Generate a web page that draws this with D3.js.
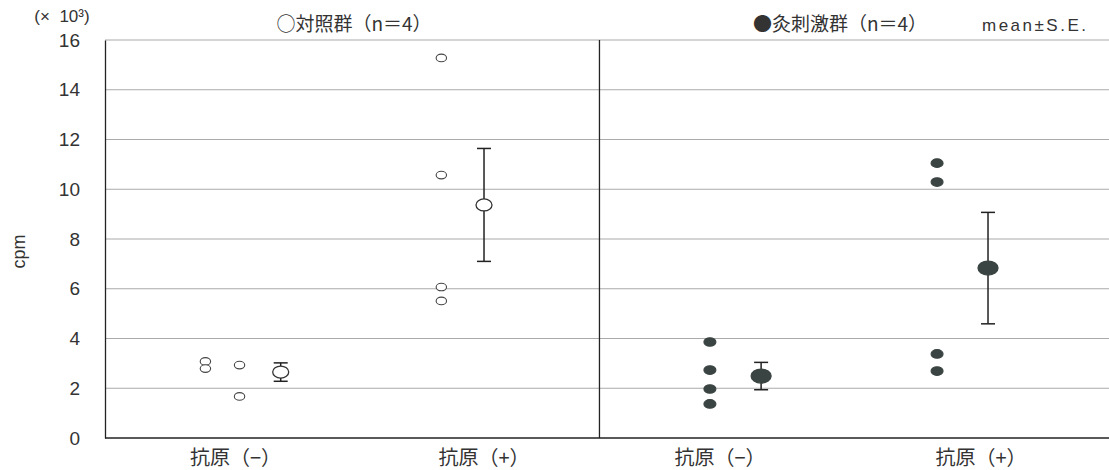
<!DOCTYPE html>
<html><head><meta charset="utf-8">
<script src="https://cdn.jsdelivr.net/npm/d3@7"></script>
<style>body{margin:0;background:#fff}svg{display:block}</style>
</head><body>
<svg id="c" width="1109" height="470"></svg>
<script>
// ---- data ----
const categories = ["抗原（−）", "抗原（+）", "抗原（−）", "抗原（+）"];
const groups = ["対照群", "対照群", "灸刺激群", "灸刺激群"];
const yTicks = [0, 2, 4, 6, 8, 10, 12, 14, 16];
// individual values (×10^3 cpm)
const indControlNeg = [3.08, 2.79, 2.93, 1.67];
const indControlNegCol = [0, 0, 1, 1];
const indControlPos = [15.28, 10.57, 6.07, 5.51];
const indStimNeg = [3.86, 2.73, 1.97, 1.37];
const indStimPos = [11.05, 10.29, 3.38, 2.69];
// mean and SE
const meanVals = [2.65, 9.37, 2.49, 6.83];
const seVals = [0.37, 2.27, 0.55, 2.24];
// layout positions (category units)
const catLabelPos = [0.52, 1.51, 2.45, 3.49];
const indPos = [0.40, 1.34, 2.41, 3.315];
const indColStep = 0.136;
const meanPos = [0.70, 1.51, 2.614, 3.518];
const dividerPos = 1.97;

const svg = d3.select("#c");
const W = 1109, H = 470;
const m = {l: 105, r: 0, t: 40, b: 32};
const x = d3.scaleLinear().domain([0, 4]).range([m.l, W - m.r]);
const y = d3.scaleLinear().domain([0, 16]).range([H - m.b, m.t]);

const textCol = "#333";
const font = "'Noto Sans CJK JP', 'Noto Sans', sans-serif";
const latin = "'Liberation Sans', Arial, sans-serif";

// grid lines
svg.append("g").selectAll("line").data(yTicks.filter(d => d > 0)).join("line")
  .attr("x1", x(0)).attr("x2", W).attr("y1", d => y(d)).attr("y2", d => y(d))
  .attr("stroke", "#aaa").attr("stroke-width", 1.2);

// y axis
const yAxis = d3.axisLeft(y).tickValues(yTicks).tickSize(0).tickPadding(25);
const ga = svg.append("g").attr("transform", `translate(${m.l},0)`).call(yAxis);
ga.select(".domain").attr("stroke", "#222").attr("stroke-width", 1.3);
ga.selectAll("text").attr("font-family", latin).attr("font-size", 19).attr("fill", textCol);

// bottom axis line
svg.append("line").attr("x1", x(0)).attr("x2", W).attr("y1", y(0)).attr("y2", y(0))
  .attr("stroke", "#222").attr("stroke-width", 1.3);
// divider
svg.append("line").attr("x1", x(dividerPos)).attr("x2", x(dividerPos)).attr("y1", y(16)).attr("y2", y(0))
  .attr("stroke", "#222").attr("stroke-width", 1.3);

// category labels
svg.append("g").selectAll("text").data(categories).join("text")
  .attr("x", (d, i) => x(catLabelPos[i])).attr("y", 465)
  .attr("text-anchor", "middle").attr("font-family", font).attr("font-size", 20).attr("fill", textCol)
  .text(d => d);

// units / axis title
svg.append("text").attr("x", 62).attr("y", 22).attr("text-anchor", "middle")
  .attr("font-family", latin).attr("font-size", 17).attr("fill", textCol)
  .attr("xml:space", "preserve")
  .text("(×  10³)");
svg.append("text").attr("transform", `translate(25,${y(7.5)}) rotate(-90)`).attr("text-anchor", "middle")
  .attr("font-family", latin).attr("font-size", 18).attr("fill", textCol)
  .text("cpm");

// titles
svg.append("text").attr("x", 354).attr("y", 31).attr("text-anchor", "middle")
  .attr("font-family", font).attr("font-size", 19).attr("fill", textCol)
  .text("○" + groups[0] + "（n＝4）");
svg.append("text").attr("x", 840).attr("y", 31).attr("text-anchor", "middle")
  .attr("font-family", font).attr("font-size", 19).attr("fill", textCol)
  .text("●" + groups[2] + "（n＝4）");
svg.append("text").attr("x", 982).attr("y", 31)
  .attr("font-family", latin).attr("font-size", 17).attr("fill", textCol)
  .attr("letter-spacing", 2.5)
  .text("mean±S.E.");

const dark = "#3a4442";
// individual points
const indSets = [
  {vals: indControlNeg, cols: indControlNegCol, g: 0, filled: false},
  {vals: indControlPos, cols: null, g: 1, filled: false},
  {vals: indStimNeg, cols: null, g: 2, filled: true},
  {vals: indStimPos, cols: null, g: 3, filled: true}
];
indSets.forEach(s => {
  svg.append("g").selectAll("ellipse").data(s.vals).join("ellipse")
    .attr("cx", (d, i) => x(indPos[s.g] + (s.cols ? s.cols[i] * indColStep : 0)))
    .attr("cy", d => y(d))
    .attr("rx", s.filled ? 6 : 5.2).attr("ry", s.filled ? 4.3 : 3.8)
    .attr("fill", s.filled ? dark : "#fff")
    .attr("stroke", s.filled ? dark : "#444").attr("stroke-width", 1.1);
});

// error bars + means
meanVals.forEach((mv, i) => {
  const cx = x(meanPos[i]);
  const g = svg.append("g").attr("stroke", "#222").attr("stroke-width", 1.5);
  g.append("line").attr("x1", cx).attr("x2", cx).attr("y1", y(mv + seVals[i])).attr("y2", y(mv - seVals[i]));
  [mv + seVals[i], mv - seVals[i]].forEach(v =>
    g.append("line").attr("x1", cx - 7).attr("x2", cx + 7).attr("y1", y(v)).attr("y2", y(v)));
  const filled = i >= 2;
  svg.append("ellipse").attr("cx", cx).attr("cy", y(mv))
    .attr("rx", filled ? 10 : 8).attr("ry", filled ? 7 : 6)
    .attr("fill", filled ? dark : "#fff").attr("stroke", filled ? dark : "#333").attr("stroke-width", 1.3);
});
</script>
</body></html>
